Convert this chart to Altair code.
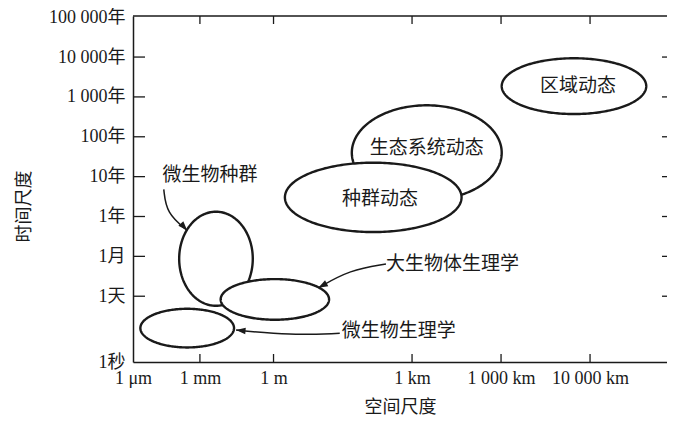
import altair as alt
import pandas as pd
import numpy as np

# ---------------- data (schematic axis units) ----------------
x_tick_pos = [0, 1, 2.1, 4.17, 5.5, 6.83]
x_tick_labels = ["1 μm", "1 mm", "1 m", "1 km", "1 000 km", "10 000 km"]
y_tick_pos = [0, 1.65, 2.65, 3.65, 4.65, 5.65, 6.65, 7.65, 8.65]
y_tick_labels = ["1秒", "1天", "1月", "1年", "10年", "100年", "1 000年", "10 000年", "100 000年"]
X_MAX = 7.98
Y_MAX = 8.68

# ellipses (drawing order matters: later ones cover earlier ones)
ell_names = ["微生物种群", "大生物体生理学", "微生物生理学", "生态系统动态", "种群动态", "区域动态"]
ell_cx = [1.24, 2.12, 0.81, 4.39, 3.59, 6.59]
ell_cy = [2.59, 1.57, 0.85, 5.25, 4.13, 6.92]
ell_rx = [0.55, 0.81, 0.70, 1.12, 1.32, 1.08]
ell_ry = [1.18, 0.51, 0.485, 1.19, 0.87, 0.70]

# labels inside ellipses / centred
lab_c_text = ["区域动态", "生态系统动态", "种群动态", "微生物种群"]
lab_c_x = [6.65, 4.39, 3.69, 1.15]
lab_c_y = [6.92, 5.37, 4.08, 4.70]
# left-aligned callout labels
lab_l_text = ["大生物体生理学", "微生物生理学"]
lab_l_x = [3.78, 3.12]
lab_l_y = [2.46, 0.77]

# callout arrows (start, bend, tip)
arrow_id = ["a1", "a1", "a1", "a2", "a2", "a2", "a3", "a3", "a3"]
arrow_idx = [0, 1, 2, 0, 1, 2, 0, 1, 2]
arrow_x = [0.46, 0.50, 0.81, 3.78, 3.24, 2.77, 3.09, 2.35, 1.54]
arrow_y = [4.33, 3.73, 3.30, 2.46, 2.31, 1.86, 0.72, 0.67, 0.80]
head_x = [0.81, 2.77, 1.54]
head_y = [3.30, 1.86, 0.80]
head_angle = [138, 241, 275]

# ---------------- chart ----------------
W, H = 534, 346
INK = "#1a1a1a"
SERIF = "Liberation Serif, Noto Sans CJK SC"
CJK = "Noto Sans CJK SC"

xs = alt.Scale(domain=[0, X_MAX], nice=False, zero=False)
ys = alt.Scale(domain=[0, Y_MAX], nice=False, zero=False)

x_expr = "[" + ",".join("'%s'" % s for s in x_tick_labels) + "][indexof([" + ",".join(str(v) for v in x_tick_pos) + "], datum.value)]"
y_expr = "[" + ",".join("'%s'" % s for s in y_tick_labels) + "][indexof([" + ",".join(str(v) for v in y_tick_pos) + "], datum.value)]"

x_axis = alt.Axis(
    values=x_tick_pos, labelExpr=x_expr, title="空间尺度", ticks=False, tickSize=0,
    grid=False, domain=True, domainColor=INK, domainWidth=1.5,
    labelPadding=7, labelFont=SERIF, labelFontSize=18, labelColor=INK,
    labelFlush=False, labelOverlap=False,
    titleFont=CJK, titleFontSize=18, titleFontWeight="normal", titleColor=INK,
    titleY=45, titleBaseline="middle",
)
y_axis = alt.Axis(
    values=y_tick_pos, labelExpr=y_expr, title="时间尺度", ticks=False, tickSize=0,
    grid=False, domain=True, domainColor=INK, domainWidth=1.5,
    labelPadding=8, labelFont=SERIF, labelFontSize=18, labelColor=INK,
    labelFlush=False, labelOverlap=False,
    titleFont=CJK, titleFontSize=18, titleFontWeight="normal", titleColor=INK,
    titleAngle=270, titleX=-109, titleY=190, titleAlign="center", titleBaseline="middle",
)


def X(f):
    return alt.X(f, type="quantitative", scale=xs, axis=x_axis)


def Y(f):
    return alt.Y(f, type="quantitative", scale=ys, axis=y_axis)


df_xt = pd.DataFrame({"x": x_tick_pos[1:]})
df_yt = pd.DataFrame({"y": y_tick_pos[1:-1]})

bottom_ticks = alt.Chart(df_xt).mark_rule(color=INK, strokeWidth=1.3).encode(
    x=X("x"), y=alt.value(H), y2=alt.value(H - 8))
top_ticks = alt.Chart(df_xt).mark_rule(color=INK, strokeWidth=1.3).encode(
    x=X("x"), y=alt.value(0), y2=alt.value(8))
left_ticks = alt.Chart(df_yt).mark_rule(color=INK, strokeWidth=1.3).encode(
    y=Y("y"), x=alt.value(0), x2=alt.value(12))
right_ticks = alt.Chart(df_yt).mark_rule(color=INK, strokeWidth=1.3).encode(
    y=Y("y"), x=alt.value(W - 5), x2=alt.value(W))
top_line = alt.Chart(pd.DataFrame({"k": [0]})).mark_rule(color=INK, strokeWidth=1.5).encode(
    y=alt.value(0), x=alt.value(0), x2=alt.value(W))

layers = [bottom_ticks, top_ticks, left_ticks, right_ticks, top_line]

t = np.linspace(0, np.pi, 121)
for i, name in enumerate(ell_names):
    df_e = pd.DataFrame({
        "x": ell_cx[i] + ell_rx[i] * np.cos(t),
        "y": ell_cy[i] - ell_ry[i] * np.sin(t),
        "y2": ell_cy[i] + ell_ry[i] * np.sin(t),
    })
    layers.append(
        alt.Chart(df_e).mark_area(fill="white", stroke=INK, strokeWidth=2.4, opacity=1).encode(
            x=X("x"), y=Y("y"), y2="y2:Q")
    )

df_arrow = pd.DataFrame({"arrow": arrow_id, "idx": arrow_idx, "x": arrow_x, "y": arrow_y})
layers.append(
    alt.Chart(df_arrow).mark_line(interpolate="basis", color=INK, strokeWidth=1.5).encode(
        x=X("x"), y=Y("y"), detail="arrow:N", order="idx:Q")
)
df_head = pd.DataFrame({"x": head_x, "y": head_y, "angle": head_angle})
layers.append(
    alt.Chart(df_head).mark_point(shape="M0,0 L0.7,2 L-0.7,2 Z", filled=True, color=INK,
                                   size=90, opacity=1).encode(
        x=X("x"), y=Y("y"), angle=alt.Angle("angle:Q", scale=None))
)

df_lc = pd.DataFrame({"x": lab_c_x, "y": lab_c_y, "t": lab_c_text})
layers.append(
    alt.Chart(df_lc).mark_text(font=CJK, fontSize=19, color=INK, align="center", baseline="middle").encode(
        x=X("x"), y=Y("y"), text="t:N")
)
df_ll = pd.DataFrame({"x": lab_l_x, "y": lab_l_y, "t": lab_l_text})
layers.append(
    alt.Chart(df_ll).mark_text(font=CJK, fontSize=19, color=INK, align="left", baseline="middle").encode(
        x=X("x"), y=Y("y"), text="t:N")
)

chart = alt.layer(*layers).properties(
    width=W, height=H,
    autosize=alt.AutoSizeParams(type="none"),
    padding={"left": 125, "top": 8, "right": 0, "bottom": 57},
    background="white",
).configure_view(stroke=None)

chart.save("out.html", embed_options={"renderer": "svg", "actions": False})
